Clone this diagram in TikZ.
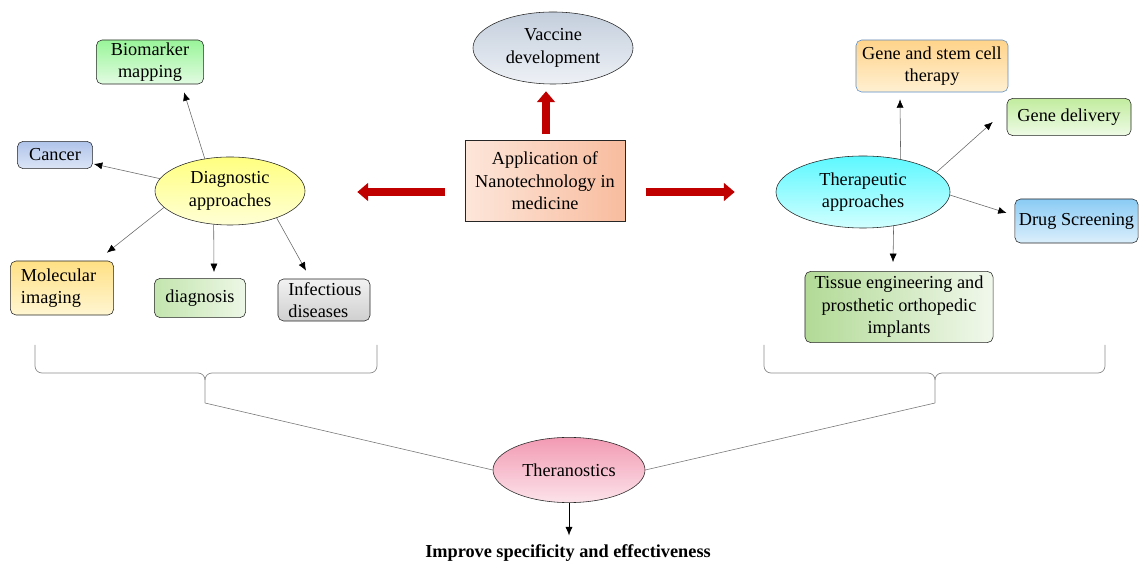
\documentclass[tikz,border=0pt]{standalone}
\usepackage{fontspec}
\setmainfont{Liberation Serif}
\usepackage{xcolor}
\usetikzlibrary{arrows.meta,shapes.geometric}
\tikzset{>=latex}

\definecolor{nanored}{HTML}{C00000}
\definecolor{vacctop}{HTML}{C3CEDC}
\definecolor{vaccbot}{HTML}{EEF1F6}
\definecolor{appdark}{HTML}{F8BC9E}
\definecolor{applight}{HTML}{FDE6DA}
\definecolor{diagtop}{HTML}{FFFF80}
\definecolor{diagbot}{HTML}{FFFFD6}
\definecolor{biotop}{HTML}{99F599}
\definecolor{biobot}{HTML}{E2FBE2}
\definecolor{cantop}{HTML}{AFC3EA}
\definecolor{canbot}{HTML}{DCE5F6}
\definecolor{moltop}{HTML}{FFE084}
\definecolor{molbot}{HTML}{FFF6D2}
\definecolor{dgntop}{HTML}{C3E5AE}
\definecolor{dgnbot}{HTML}{EDF7E6}
\definecolor{inftop}{HTML}{F2F2F2}
\definecolor{infbot}{HTML}{CFCFCF}
\definecolor{thertop}{HTML}{5CF8FF}
\definecolor{therbot}{HTML}{D2FFFF}
\definecolor{gsctop}{HTML}{FFD38A}
\definecolor{gscbot}{HTML}{FFF0D2}
\definecolor{gscline}{HTML}{5B8DC9}
\definecolor{gdtop}{HTML}{C2EC9E}
\definecolor{gdbot}{HTML}{EEFBE6}
\definecolor{drugtop}{HTML}{8ACBF4}
\definecolor{drugbot}{HTML}{DCEFFC}
\definecolor{tisdark}{HTML}{B2DA96}
\definecolor{tislight}{HTML}{F1F8EC}
\definecolor{thstop}{HTML}{F29AB3}
\definecolor{thsbot}{HTML}{FCE3EA}

\begin{document}
\begin{tikzpicture}[x=0.025cm,y=-0.025cm,
	every node/.style={font=\fontsize{13}{16}\selectfont},
	box/.style={draw=black!85, rounded corners=4pt, align=center, inner sep=1pt},
	oval/.style={draw=black!85, ellipse, align=center, inner sep=0pt},
	link/.style={draw=black!60, -{Latex[black,length=6pt,width=5pt]}},
	bigarrow/.style={draw=nanored, line width=0.22cm, -{Triangle[width=0.44cm,length=0.27cm]}},
	brace/.style={draw=black!45, line width=0.5pt}]
	\useasboundingbox (0,0) rectangle (1139,563);

	% centre of the figure
	\node[box, sharp corners, minimum width=4cm, minimum height=2.03cm, left color=applight, right color=appdark] (app) at (545,181) {Application of\\Nanotechnology in\\medicine};
	\node[oval, minimum width=4cm, minimum height=1.8cm, top color=vacctop, bottom color=vaccbot] (vaccine) at (553,48) {Vaccine\\development};

	% diagnostic side
	\node[oval, minimum width=3.75cm, minimum height=1.7cm, top color=diagtop, bottom color=diagbot] (diag) at (230,191) {Diagnostic\\approaches};
	\node[box, minimum width=2.68cm, minimum height=1.1cm, top color=biotop, bottom color=biobot] (bio) at (150,62) {Biomarker\\mapping};
	\node[box, minimum width=1.88cm, minimum height=0.68cm, top color=cantop, bottom color=canbot] (cancer) at (55,155) {Cancer};
	\node[box, align=left, minimum width=2.58cm, minimum height=1.35cm, top color=moltop, bottom color=molbot, text width=2.05cm] (molec) at (62,288) {Molecular\\imaging};
	\node[box, minimum width=2.28cm, minimum height=0.98cm, left color=dgntop, right color=dgnbot] (dgn) at (200,298) {diagnosis};
	\node[box, align=left, minimum width=2.3cm, minimum height=1.05cm, top color=inftop, bottom color=infbot, text width=1.78cm] (infect) at (324,300) {Infectious\\diseases};

	% therapeutic side
	\node[oval, minimum width=4.35cm, minimum height=1.8cm, top color=thertop, bottom color=therbot] (thera) at (863,192) {Therapeutic\\approaches};
	\node[box, draw=gscline, minimum width=3.8cm, minimum height=1.3cm, top color=gsctop, bottom color=gscbot] (genestem) at (932,66) {Gene and stem cell\\therapy};
	\node[box, minimum width=3.1cm, minimum height=0.93cm, top color=gdtop, bottom color=gdbot] (genedel) at (1069,117) {Gene delivery};
	\node[box, minimum width=3.08cm, minimum height=1.1cm, top color=drugtop, bottom color=drugbot] (drug) at (1076.5,221) {Drug Screening};
	\node[box, minimum width=4.7cm, minimum height=1.78cm, left color=tisdark, right color=tislight] (tissue) at (899,307) {Tissue engineering and\\prosthetic orthopedic\\implants};

	% bottom
	\node[oval, minimum width=3.8cm, minimum height=1.63cm, top color=thstop, bottom color=thsbot] (thers) at (569,470) {Theranostics};
	\node[font=\fontsize{13}{16}\selectfont\bfseries] (improve) at (568,553) {Improve specificity and effectiveness};

	% thick red arrows
	\draw[bigarrow] ([shift={(1,-6)}]app.north) -- ([shift={(1,7)}]app.north |- vaccine.south);
	\draw[bigarrow] ([shift={(-20,11)}]app.west) -- ([shift={(52,11)}]diag.east |- app.west);
	\draw[bigarrow] ([shift={(21,11)}]app.east) -- ([shift={(-41,11)}]thera.west |- app.east);

	% diagnostic links
	\draw[link] (diag.128) -- ([shift={(34,8)}]bio.south);
	\draw[link] (diag.170) -- ([shift={(1,9)}]cancer.east);
	\draw[link] (diag.194) -- ([shift={(-7,-8)}]molec.north east);
	\draw[link] (diag.244) -- ([shift={(14,-6)}]dgn.north);
	\draw[link] (diag.330) -- ([shift={(-18,-8)}]infect.north);

	% therapeutic links
	\draw[link] (thera.41) -- ([shift={(-32,7)}]genestem.south);
	\draw[link] (thera.15) -- ([shift={(-14,5)}]genedel.west);
	\draw[link] (thera.358) -- ([shift={(-8,-8)}]drug.west);
	\draw[link] (thera.312) -- ([shift={(-6,-9)}]tissue.north);

	% braces
	\coordinate (ltip) at (205,403);
	\coordinate (rtip) at (935,403);
	\draw[brace] (35,345) -- (35,366) to[out=-90,in=180] (42,373) -- (198,373) to[out=0,in=90] (205,380) -- (ltip);
	\draw[brace] (377,345) -- (377,366) to[out=-90,in=0] (370,373) -- (212,373) to[out=180,in=90] (205,380);
	\draw[brace] (764,345) -- (764,366) to[out=-90,in=180] (771,373) -- (928,373) to[out=0,in=90] (935,380) -- (rtip);
	\draw[brace] (1105,345) -- (1105,366) to[out=-90,in=0] (1098,373) -- (942,373) to[out=180,in=90] (935,380);
	\draw[draw=black!55] (ltip) -- (thers.west);
	\draw[draw=black!55] (rtip) -- (thers.east);
	\draw[link, draw=black] (thers.south) -- ([yshift=3pt]thers.south |- improve.north);
\end{tikzpicture}
\end{document}
